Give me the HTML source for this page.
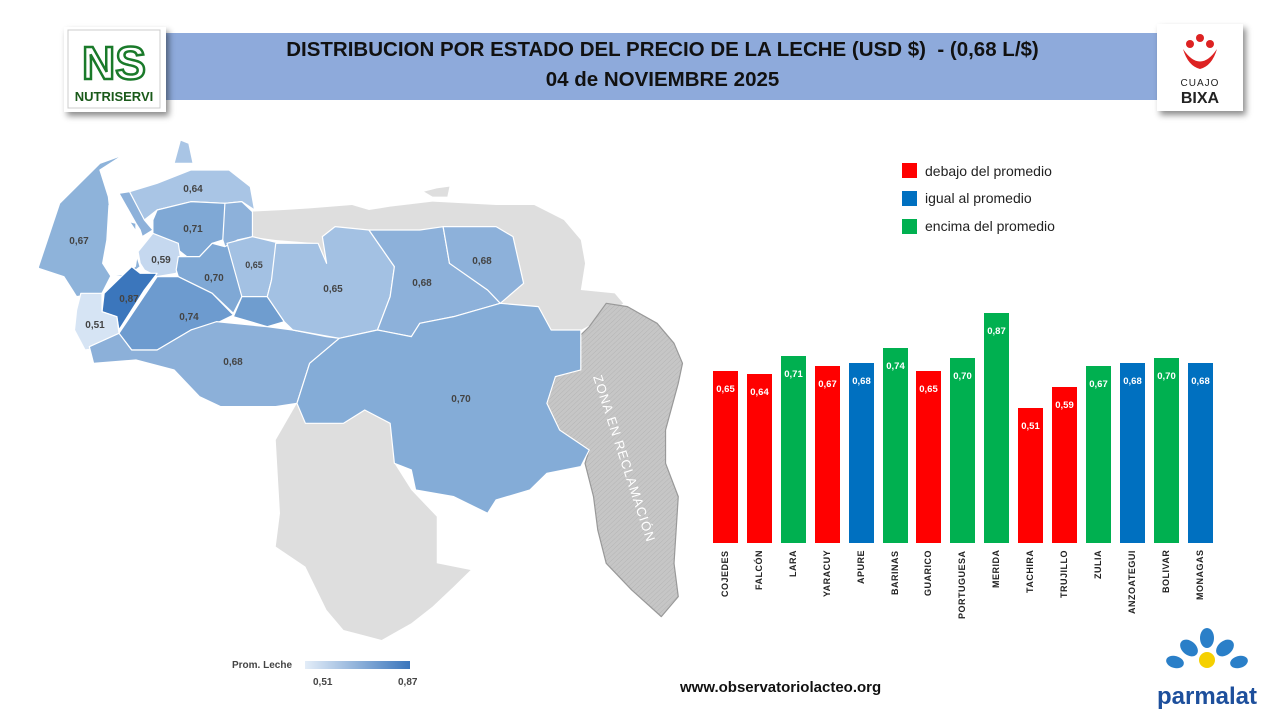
<!DOCTYPE html>
<html><head><meta charset="utf-8"><style>
body{margin:0;width:1280px;height:720px;background:#fff;position:relative;overflow:hidden;font-family:"Liberation Sans",sans-serif}
.abs{position:absolute}
.band{left:165px;top:33px;width:995px;height:67px;background:#8eaadb}
.title{left:165px;width:995px;text-align:center;font-family:"Liberation Sans Narrow","Liberation Sans",sans-serif;font-weight:bold;font-size:20.5px;color:#111}
.logo{background:#fff;box-shadow:3px 4px 6px rgba(0,0,0,.45)}
.leg{left:902px;width:15px;height:15px}
.legt{left:925px;font-size:14px;color:#222}
.bar{position:absolute;width:25px}
.bv{position:absolute;width:25px;text-align:center;color:#fff;font-weight:bold;font-size:9.5px}
.bl{position:absolute;top:550px;width:25px;height:90px;writing-mode:vertical-rl;transform:rotate(180deg);text-align:right;font-size:9px;font-weight:bold;color:#222;letter-spacing:0.5px;line-height:25px}
</style></head><body>
<div class="abs band"></div>
<div class="abs title" style="top:38px">DISTRIBUCION POR ESTADO DEL PRECIO DE LA LECHE (USD $)&nbsp; - (0,68 L/$)</div>
<div class="abs title" style="top:68px">04 de NOVIEMBRE 2025</div>
<div class="abs logo" style="left:64px;top:27px;width:102px;height:85px">
<svg width="102" height="85"><rect x="4" y="3" width="92" height="78" fill="#fff" stroke="#ccc"/>
<text x="50" y="52" text-anchor="middle" font-family="Liberation Sans" font-size="46" font-weight="bold" fill="none" stroke="#1a7a2a" stroke-width="2.5">NS</text>
<text x="50" y="74" text-anchor="middle" font-family="Liberation Sans Narrow,Liberation Sans" font-size="13" font-weight="bold" fill="#1a5a1a">NUTRISERVI</text></svg></div>
<div class="abs logo" style="left:1157px;top:24px;width:86px;height:87px">
<svg width="86" height="87"><circle cx="43" cy="14" r="4" fill="#d22"/><circle cx="33" cy="20" r="4" fill="#d22"/><circle cx="53" cy="20" r="4" fill="#d22"/>
<path d="M26 25 Q43 50 60 25 Q55 42 43 45 Q31 42 26 25Z" fill="#d22"/>
<text x="43" y="62" text-anchor="middle" font-size="10" fill="#222" letter-spacing="1">CUAJO</text>
<text x="43" y="79" text-anchor="middle" font-size="16" font-weight="bold" fill="#222">BIXA</text></svg></div>

<svg class="abs" style="left:0;top:0" width="700" height="660">
<defs><pattern id="h" width="9" height="9" patternUnits="userSpaceOnUse" patternTransform="rotate(40)"><rect width="9" height="9" fill="#c6c6c6"/><line x1="0" y1="0" x2="0" y2="9" stroke="#8a8a8a" stroke-width="0.8"/></pattern></defs>
<g transform="translate(30,130) scale(0.4237,0.3333)" stroke="#fff" stroke-width="1.2" stroke-linejoin="round">
<g fill="#dedede" stroke="none">
<polygon points="520,245 600,240 660,235 760,225 800,240 850,230 950,215 1100,225 1190,225 1260,270 1300,330 1310,400 1300,480 1380,490 1400,520 1360,560 1300,600 1230,600 1200,530 1110,520 1165,460 1140,320 1100,290 920,300 820,305 720,290 690,320 700,400 670,390 680,340 580,330 520,320"/>
<polygon points="630,820 650,880 740,880 790,840 850,880 860,1000 900,1080 960,1160 960,1300 1040,1320 1000,1370 950,1430 900,1480 830,1530 740,1500 700,1440 650,1310 580,1250 590,1150 580,930"/>
<polygon points="930,185 960,175 990,170 985,200 950,200"/>
</g>
<polygon fill="url(#h)" stroke="#999" vector-effect="non-scaling-stroke" points="1360,520 1410,530 1480,580 1520,640 1540,700 1530,760 1500,900 1500,1000 1530,1100 1520,1300 1530,1400 1490,1460 1420,1380 1360,1300 1340,1200 1330,1100 1310,1000 1320,960 1250,900 1220,820 1240,740 1300,720 1280,640 1320,590"/>
<g vector-effect="non-scaling-stroke">
<polygon vector-effect="non-scaling-stroke" fill="#8eb3da" points="20,410 70,220 165,100 220,75 165,120 185,200 190,260 250,280 250,370 260,410 230,440 190,440 170,490 110,500 100,480 80,440 20,415"/>
<polygon vector-effect="non-scaling-stroke" fill="#fff" stroke="none" points="185,225 215,235 250,300 255,370 250,410 225,435 190,440 170,400 180,330"/>
<polygon vector-effect="non-scaling-stroke" fill="#a9c5e5" points="235,185 300,160 380,120 470,120 520,170 530,240 500,215 460,220 380,215 300,240 270,270 240,240 215,190"/>
<polygon vector-effect="non-scaling-stroke" fill="#a9c5e5" points="340,100 355,30 375,40 385,100"/>
<polygon vector-effect="non-scaling-stroke" fill="#8db1da" points="210,190 235,185 270,270 290,300 265,320 260,300 250,280"/>
<polygon vector-effect="non-scaling-stroke" fill="#7fa8d5" points="290,270 300,240 380,215 460,220 470,240 455,330 430,340 400,380 370,380 350,360 310,340 290,310"/>
<polygon vector-effect="non-scaling-stroke" fill="#8db1da" points="460,220 500,215 525,245 525,320 490,330 460,350 455,330"/>
<polygon vector-effect="non-scaling-stroke" fill="#c5d8ef" points="255,365 290,310 350,340 355,380 345,430 300,440 270,420 260,400"/>
<polygon vector-effect="non-scaling-stroke" fill="#3b76bc" points="240,410 260,430 300,430 270,480 210,600 205,560 170,545 175,490"/>
<polygon vector-effect="non-scaling-stroke" fill="#d6e4f4" points="120,490 170,490 170,545 205,560 210,610 190,650 130,660 105,600 110,540"/>
<polygon vector-effect="non-scaling-stroke" fill="#7fa8d5" points="350,380 400,380 430,340 460,350 490,330 500,500 480,550 430,490 350,440 345,420"/>
<polygon vector-effect="non-scaling-stroke" fill="#a3c1e3" points="465,340 525,320 590,340 570,450 560,500 500,500"/>
<polygon vector-effect="non-scaling-stroke" fill="#6f9dcf" points="500,500 560,500 600,575 560,590 480,560"/>
<polygon vector-effect="non-scaling-stroke" fill="#6d9bcf" points="300,440 350,440 430,490 480,555 440,580 380,600 300,660 240,660 210,610"/>
<polygon vector-effect="non-scaling-stroke" fill="#8cb0d9" points="140,650 210,610 240,660 300,660 380,600 440,575 560,590 620,600 700,620 730,625 660,700 630,820 580,830 450,830 400,800 340,720 250,690 150,700"/>
<polygon vector-effect="non-scaling-stroke" fill="#a3c1e3" points="580,340 680,340 700,400 690,320 720,290 800,300 860,410 850,500 820,600 730,625 620,600 600,575 560,500 570,450"/>
<polygon vector-effect="non-scaling-stroke" fill="#8db1da" points="800,300 920,300 975,290 990,400 1080,480 1110,520 1000,560 920,580 900,620 820,600 850,500 860,410"/>
<polygon vector-effect="non-scaling-stroke" fill="#8db1da" points="975,290 1100,290 1140,320 1165,460 1110,520 1080,480 990,400"/>
<polygon vector-effect="non-scaling-stroke" fill="#84acd7" points="730,625 820,600 900,620 920,580 1000,560 1110,520 1200,530 1230,600 1300,600 1300,720 1240,740 1220,820 1250,900 1320,960 1300,1010 1220,1030 1180,1080 1100,1110 1080,1150 1000,1100 910,1080 900,1020 860,1000 850,880 790,840 740,880 650,880 630,820 660,700"/>
</g></g>
<g font-family="Liberation Sans" font-weight="bold" font-size="10" fill="#444" text-anchor="middle">
<text x="193" y="192">0,64</text><text x="79" y="244">0,67</text><text x="193" y="232">0,71</text><text x="161" y="263">0,59</text>
<text x="214" y="281">0,70</text><text x="254" y="268" font-size="9">0,65</text><text x="129" y="302">0,87</text><text x="95" y="328">0,51</text>
<text x="189" y="320">0,74</text><text x="333" y="292">0,65</text><text x="422" y="286">0,68</text><text x="482" y="264">0,68</text>
<text x="233" y="365">0,68</text><text x="461" y="402">0,70</text>
</g>
<text transform="translate(620,460) rotate(72)" text-anchor="middle" font-family="Liberation Sans" font-size="13" fill="#fff" letter-spacing="1">ZONA EN RECLAMACIÓN</text>
</svg>

<div class="abs leg" style="top:163px;background:#ff0000"></div><div class="abs legt" style="top:163px">debajo del promedio</div>
<div class="abs leg" style="top:191px;background:#0070c0"></div><div class="abs legt" style="top:190px">igual al promedio</div>
<div class="abs leg" style="top:219px;background:#00b050"></div><div class="abs legt" style="top:218px">encima del promedio</div>

<div id="bars"></div>
<script>
var d=[["COJEDES",.65,"#ff0000"],["FALCÓN",.64,"#ff0000"],["LARA",.71,"#00b050"],["YARACUY",.67,"#ff0000"],["APURE",.68,"#0070c0"],["BARINAS",.74,"#00b050"],["GUARICO",.65,"#ff0000"],["PORTUGUESA",.70,"#00b050"],["MERIDA",.87,"#00b050"],["TACHIRA",.51,"#ff0000"],["TRUJILLO",.59,"#ff0000"],["ZULIA",.67,"#00b050"],["ANZOATEGUI",.68,"#0070c0"],["BOLIVAR",.70,"#00b050"],["MONAGAS",.68,"#0070c0"]];
var h="";d.forEach(function(b,i){var x=Math.round(713+i*33.9),ht=Math.round(264*b[1]),t=543-ht;
h+='<div class="bar" style="left:'+x+'px;top:'+t+'px;height:'+ht+'px;background:'+b[2]+'"></div>';
h+='<div class="bv" style="left:'+x+'px;top:'+(t+13)+'px">'+b[1].toFixed(2).replace(".",",")+'</div>';
h+='<div class="bl" style="left:'+x+'px;">'+b[0]+'</div>';});
document.getElementById("bars").innerHTML=h;
</script>

<div class="abs" style="left:232px;top:660px;font-size:10px;font-weight:bold;color:#444">Prom. Leche</div>
<div class="abs" style="left:305px;top:661px;width:105px;height:8px;background:linear-gradient(90deg,#e3edf8,#3b76bc)"></div>
<div class="abs" style="left:313px;top:677px;font-size:10px;font-weight:bold;color:#444">0,51</div>
<div class="abs" style="left:398px;top:677px;font-size:10px;font-weight:bold;color:#444">0,87</div>
<div class="abs" style="left:680px;top:679px;font-size:15px;font-weight:bold;color:#111">www.observatoriolacteo.org</div>
<svg class="abs" style="left:1145px;top:626px" width="125" height="85">
<g fill="#2a7fc8"><ellipse cx="62" cy="12" rx="7" ry="10"/><ellipse cx="44" cy="22" rx="7" ry="10" transform="rotate(-50 44 22)"/><ellipse cx="80" cy="22" rx="7" ry="10" transform="rotate(50 80 22)"/>
<ellipse cx="30" cy="36" rx="6" ry="9" transform="rotate(-75 30 36)"/><ellipse cx="94" cy="36" rx="6" ry="9" transform="rotate(75 94 36)"/></g>
<circle cx="62" cy="34" r="8" fill="#f5d000"/>
<text x="62" y="78" text-anchor="middle" font-family="Liberation Sans" font-weight="bold" font-size="24" fill="#1d4f9c">parmalat</text></svg>
</body></html>
